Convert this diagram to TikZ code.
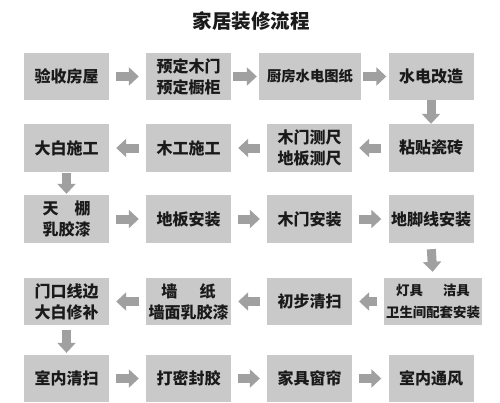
\documentclass[tikz,border=0pt]{standalone}
\usepackage{fontspec}
\setmainfont{Noto Sans CJK SC}
\usetikzlibrary{arrows.meta}
\definecolor{boxgray}{HTML}{C9C9C9}
\definecolor{arrowgray}{HTML}{A0A0A0}
\definecolor{textc}{HTML}{1A1A1A}
\tikzset{
  box/.style={fill=boxgray, minimum width=85pt, minimum height=47pt, inner sep=0pt,
    align=center, text=textc, font=\bfseries\fontsize{16}{21}\selectfont},
  flow/.style={draw=arrowgray, line width=9pt, -{Triangle[width=18pt,length=10pt]},
    shorten <=7pt, shorten >=7pt},
  tight/.style={shorten <=2pt, shorten >=2pt},
}
\begin{document}
\begin{tikzpicture}[x=1pt,y=-1pt]
\useasboundingbox (0,0) rectangle (500,402);
\fill[white] (0,0) rectangle (500,402);
\node[text=textc, font=\bfseries\fontsize{19.5}{22}\selectfont] (title) at (251,21) {家居装修流程};
% row 1
\node[box] (a1) at (66.5,76.5) {验收房屋};
\node[box] (a2) at (188.5,76.5) {预定木门\\预定橱柜};
\node[box, minimum width=102pt, font=\bfseries\fontsize{14.3}{20}\selectfont] (a3) at (310,76.5) {厨房水电图纸};
\node[box] (a4) at (431,76.5) {水电改造};
% row 2
\node[box, minimum height=48pt] (b1) at (66.5,148) {大白施工};
\node[box, minimum height=48pt] (b2) at (188.5,148) {木工施工};
\node[box, minimum height=48pt] (b3) at (309.5,148) {木门测尺\\地板测尺};
\node[box, minimum height=48pt] (b4) at (431,148) {粘贴瓷砖};
% row 3
\node[box, minimum height=48pt] (c1) at (66.5,219) {天\hspace{1em}棚\\乳胶漆};
\node[box, minimum height=48pt] (c2) at (188.5,219) {地板安装};
\node[box, minimum height=48pt] (c3) at (309.5,219) {木门安装};
\node[box, minimum height=48pt] (c4) at (431,219) {地脚线安装};
% row 4
\node[box] (d1) at (66.5,301.5) {门口线边\\大白修补};
\node[box] (d2) at (188.5,301.5) {墙\hspace{1.4em}纸\\墙面乳胶漆};
\node[box] (d3) at (309.5,301.5) {初步清扫};
\node[box, minimum width=98pt, font=\bfseries\fontsize{13.4}{22}\selectfont] (d4) at (433,301.5) {灯具\hspace{1.5em}洁具\\卫生间配套安装};
% row 5
\node[box] (e1) at (66.5,378.5) {室内清扫};
\node[box] (e2) at (188.5,378.5) {打密封胶};
\node[box] (e3) at (309.5,378.5) {家具窗帘};
\node[box] (e4) at (431,378.5) {室内通风};
% arrows
\draw[flow] (a1) -- (a2);
\draw[flow, tight] (a2) -- (a3);
\draw[flow, tight] (a3) -- (a4);
\draw[flow, shorten <=0pt, shorten >=0pt] (a4) -- (b4);
\draw[flow] (b4) -- (b3);
\draw[flow] (b3) -- (b2);
\draw[flow] (b2) -- (b1);
\draw[flow, shorten <=1pt, shorten >=1pt] (b1) -- (c1);
\draw[flow] (c1) -- (c2);
\draw[flow] (c2) -- (c3);
\draw[flow] (c3) -- (c4);
\draw[flow, shorten <=6pt, shorten >=6pt] (c4.south) -- (d4.north);
\draw[flow] (d4) -- (d3);
\draw[flow] (d3) -- (d2);
\draw[flow] (d2) -- (d1);
\draw[flow, shorten <=5pt, shorten >=2pt] (d1) -- (e1);
\draw[flow] (e1) -- (e2);
\draw[flow] (e2) -- (e3);
\draw[flow] (e3) -- (e4);
\end{tikzpicture}
\end{document}
